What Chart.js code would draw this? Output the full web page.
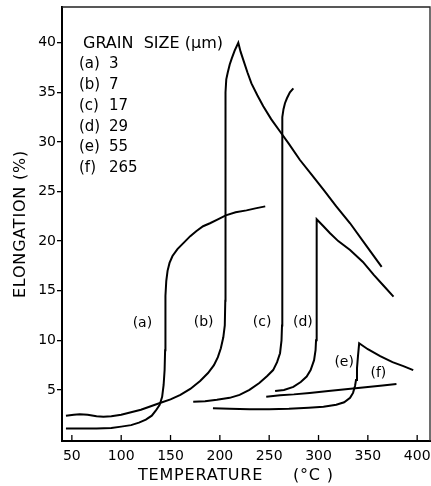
<!DOCTYPE html>
<html>
<head>
<meta charset="utf-8">
<script src="https://cdn.jsdelivr.net/npm/chart.js@4.4.1/dist/chart.umd.min.js"></script>
<style>
  html,body{margin:0;padding:0;background:#fff;}
  #wrap{width:431px;height:486px;}
</style>
</head>
<body>
<div id="wrap"><canvas id="c" width="431" height="486"></canvas></div>
<script>
// temperature (°C) / elongation (%) pairs, one pair of arrays per grain size
const aT = [44,60,75,90,100,110,118,125,131,135,139,141.5,143,144,144.5,144.7,145,145.7,147,149,152,157,163,170,176,183,190,198,206,216,227,236,246];
const aE = [1.1,1.1,1.1,1.15,1.3,1.45,1.7,2.0,2.4,2.9,3.5,4.3,5.5,7,9,12,14.5,16,17,17.8,18.5,19.2,19.8,20.5,21,21.5,21.8,22.2,22.6,22.9,23.1,23.3,23.5];
const bT = [44,52,58,66,75,82,90,100,110,120,130,140,150,160,170,180,188,194,198,201,203.5,205,205.5,205.5,205.7,206,206.5,208,210,212,215,218.7,221,224,228,232,238,244,252,261,270,281,293,305,318,332,348,364];
const bE = [2.4,2.5,2.55,2.5,2.35,2.3,2.35,2.5,2.75,3.0,3.35,3.7,4.05,4.5,5.1,5.9,6.7,7.5,8.3,9.2,10.3,11.5,14,20,30,35,36.3,37,37.8,38.4,39.2,40,39.1,38.2,37,35.9,34.7,33.6,32.3,31.05,29.8,28.2,26.7,25.2,23.5,21.8,19.6,17.4];
const cT = [173,185,197,210,220,230,240,248,254,258,261,262.5,263,263.2,263.2,263.3,263.5,264.5,266,268,271,274.5];
const cE = [3.8,3.85,4.0,4.2,4.5,5.0,5.7,6.4,7.0,7.8,8.7,10,11.5,15,25,31,32.5,33.3,33.9,34.4,35,35.4];
const dT = [256,265,274.5,282,288,292,295.5,297,297.5,298,298.2,298.2,305,311.7,320,332,345,356,366,376];
const dE = [4.9,5.0,5.3,5.8,6.35,7.0,8.0,9,10,12,16,22.2,21.5,20.8,20.0,19.1,17.9,16.6,15.5,14.4];
const eT = [193,210,230,250,270,290,305,318,326,332,335,337,338,339,340,341.2,350,362.5,375,386,396];
const eE = [3.15,3.1,3.05,3.05,3.1,3.2,3.3,3.5,3.75,4.2,4.7,5.4,6.0,7.2,8.4,9.7,9.1,8.4,7.8,7.4,7.0];
const fT = [247,261,275,291,310,330,350,365,379];
const fE = [4.3,4.45,4.55,4.7,4.9,5.1,5.3,5.45,5.6];

const curveLetters = ['(a)','(b)','(c)','(d)','(e)','(f)'];
const grainSizes = ['3','7','17','29','55','265'];
// where each curve letter sits, in data units
const letterT = [121.5,183.6,242.8,284.1,326,360.7];
const letterE = [11.75,11.8,11.8,11.8,7.8,6.7];

const xTicks = [50,100,150,200,250,300,350,400];
const yTicks = [5,10,15,20,25,30,35,40];

const FONT = '"DejaVu Sans", sans-serif';
const pairs = (t,e)=> t.map((v,i)=>({x:v, y:e[i]}));
const series = [[aT,aE],[bT,bE],[cT,cE],[dT,dE],[eT,eE],[fT,fE]];

const decor = {
  id:'decor',
  afterDraw(chart){
    const {ctx, chartArea:a, scales:{x,y}} = chart;
    ctx.save();
    // top and right frame
    ctx.strokeStyle = '#222'; ctx.lineWidth = 1.3;
    ctx.beginPath(); ctx.moveTo(a.left, a.top); ctx.lineTo(a.right, a.top); ctx.lineTo(a.right, a.bottom); ctx.stroke();
    // inward x ticks
    ctx.strokeStyle = '#000'; ctx.lineWidth = 1.3;
    xTicks.forEach(v=>{ const px = x.getPixelForValue(v); ctx.beginPath(); ctx.moveTo(px, a.bottom); ctx.lineTo(px, a.bottom-6); ctx.stroke(); });
    ctx.fillStyle = '#000';
    // curve letters
    ctx.font = '14px '+FONT; ctx.textAlign = 'center'; ctx.textBaseline = 'middle';
    curveLetters.forEach((s,i)=> ctx.fillText(s, x.getPixelForValue(letterT[i]), y.getPixelForValue(letterE[i])));
    // grain size key
    ctx.textAlign = 'left';
    ctx.font = '16px '+FONT;
    ctx.fillText('GRAIN  SIZE (\u00b5m)', 83, 44);
    ctx.font = '15px '+FONT;
    curveLetters.forEach((s,i)=>{
      const yy = 64 + i*20.9;
      ctx.fillText(s, 79, yy);
      ctx.fillText(grainSizes[i], 109, yy);
    });
    // axis titles
    ctx.font = '16px '+FONT;
    ctx.letterSpacing = '0.8px';
    ctx.fillText('TEMPERATURE', 138, 476);
    ctx.fillText('(\u00b0C )', 293, 476);
    ctx.translate(21, 224); ctx.rotate(-Math.PI/2);
    ctx.textAlign = 'center';
    ctx.fillText('ELONGATION (%)', 0, 0);
    ctx.restore();
  }
};

new Chart(document.getElementById('c'), {
  type:'scatter',
  data:{ datasets: series.map(([t,e],i)=>({
    label: curveLetters[i], data: pairs(t,e), showLine:true, pointRadius:0,
    borderColor:'#000', borderWidth:2, tension:0, fill:false
  }))},
  options:{
    responsive:false, animation:false,
    layout:{ padding:{top:7, right:1, left:0, bottom:0} },
    plugins:{ legend:{display:false}, tooltip:{enabled:false} },
    scales:{
      x:{ type:'linear', min:40, max:413,
        afterBuildTicks: s=>{ s.ticks = xTicks.map(v=>({value:v})); },
        afterFit: s=>{ s.height = 45; s.paddingLeft = 0; s.paddingRight = 0; },
        grid:{ drawOnChartArea:false, drawTicks:false },
        border:{ display:true, color:'#000', width:2 },
        ticks:{ color:'#000', font:{family:FONT, size:14}, padding:7, maxRotation:0 }
      },
      y:{ type:'linear', min:-0.15, max:43.6,
        afterBuildTicks: s=>{ s.ticks = yTicks.map(v=>({value:v})); },
        afterFit: s=>{ s.width = 62; s.paddingTop = 0; s.paddingBottom = 0; },
        grid:{ drawOnChartArea:false, drawTicks:true, tickLength:5, color:'#000', lineWidth:1.3 },
        border:{ display:true, color:'#000', width:2 },
        ticks:{ color:'#000', font:{family:FONT, size:14}, padding:1 }
      }
    }
  },
  plugins:[decor]
});
</script>
</body>
</html>
